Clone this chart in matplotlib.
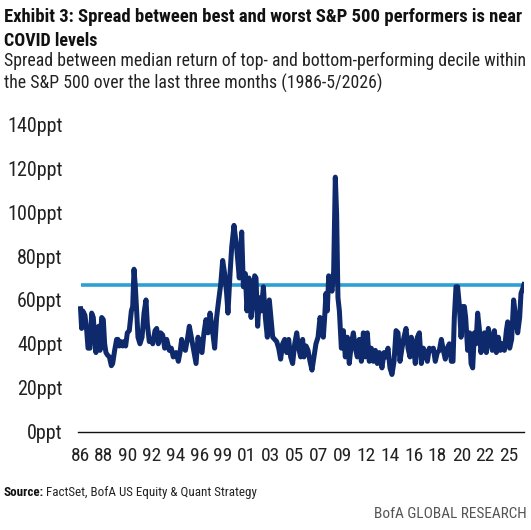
import matplotlib

matplotlib.use("Agg")
import matplotlib.pyplot as plt
from matplotlib import font_manager

# decimal year and spread (ppt)
YEARS = [
    1986.05, 1986.15, 1986.25, 1986.45, 1986.61, 1986.73, 1986.91, 1987.06, 1987.21, 1987.33,
    1987.45, 1987.58, 1987.70, 1987.82, 1987.97, 1988.12, 1988.24, 1988.36, 1988.48, 1988.67,
    1988.85, 1988.97, 1989.15, 1989.33, 1989.45, 1989.58, 1989.70, 1989.88, 1990.00, 1990.15,
    1990.30, 1990.48, 1990.67, 1990.79, 1990.91, 1991.03, 1991.15, 1991.27, 1991.45, 1991.64,
    1991.82, 1992.00, 1992.12, 1992.30, 1992.48, 1992.61, 1992.82, 1992.97, 1993.12, 1993.33,
    1993.52, 1993.70, 1993.88, 1994.12, 1994.30, 1994.48, 1994.73, 1994.94, 1995.09, 1995.24,
    1995.39, 1995.58, 1995.76, 1995.94, 1996.12, 1996.30, 1996.55, 1996.73, 1996.91, 1997.09,
    1997.27, 1997.45, 1997.64, 1997.82, 1998.00, 1998.24, 1998.42, 1998.61, 1998.79, 1998.97,
    1999.15, 1999.33, 1999.45, 1999.64, 1999.79, 2000.00, 2000.24, 2000.48, 2000.70, 2000.85,
    2001.03, 2001.18, 2001.36, 2001.55, 2001.70, 2001.88, 2002.00, 2002.15, 2002.30, 2002.48,
    2002.67, 2002.85, 2003.03, 2003.21, 2003.36, 2003.52, 2003.70, 2003.88, 2004.06, 2004.24,
    2004.42, 2004.61, 2004.79, 2004.97, 2005.15, 2005.33, 2005.52, 2005.70, 2005.88, 2006.06,
    2006.24, 2006.36, 2006.55, 2006.73, 2006.91, 2007.09, 2007.27, 2007.45, 2007.64, 2007.82,
    2008.00, 2008.12, 2008.24, 2008.36, 2008.48, 2008.61, 2008.79, 2008.91, 2009.06, 2009.21,
    2009.33, 2009.45, 2009.58, 2009.76, 2009.94, 2010.12, 2010.30, 2010.48, 2010.67, 2010.85,
    2011.03, 2011.21, 2011.39, 2011.58, 2011.76, 2011.94, 2012.12, 2012.30, 2012.48, 2012.67,
    2012.85, 2013.03, 2013.21, 2013.45, 2013.64, 2013.82, 2014.00, 2014.18, 2014.36, 2014.55,
    2014.73, 2014.91, 2015.09, 2015.27, 2015.45, 2015.64, 2015.82, 2016.00, 2016.12, 2016.30,
    2016.48, 2016.67, 2016.85, 2017.03, 2017.21, 2017.39, 2017.58, 2017.76, 2017.94, 2018.12,
    2018.30, 2018.48, 2018.67, 2018.85, 2019.03, 2019.21, 2019.39, 2019.58, 2019.76, 2019.91,
    2020.03, 2020.18, 2020.33, 2020.48, 2020.64, 2020.82, 2020.94, 2021.06, 2021.24, 2021.42,
    2021.55, 2021.70, 2021.85, 2022.00, 2022.15, 2022.30, 2022.45, 2022.61, 2022.76, 2022.94,
    2023.12, 2023.30, 2023.48, 2023.67, 2023.85, 2024.03, 2024.21, 2024.39, 2024.58, 2024.76,
    2024.88, 2025.06, 2025.24, 2025.42, 2025.61, 2025.79, 2025.97, 2026.09, 2026.24, 2026.36,
]
SPREAD = [
    56, 47, 55, 53, 46, 38, 38, 54, 52, 43,
    36, 47, 48, 37, 52, 51, 40, 36, 35, 34,
    30, 31, 37, 42, 42, 39, 41, 39, 41, 39,
    45, 46, 55, 57, 74, 66, 55, 43, 40, 43,
    54, 60, 49, 41, 42, 40, 46, 47, 40, 45,
    44, 38, 42, 37, 38, 34, 36, 32, 36, 42,
    38, 37, 42, 48, 43, 38, 31, 43, 38, 36,
    45, 51, 45, 54, 48, 38, 52, 60, 67, 78,
    72, 63, 54, 72, 84, 94, 84, 70, 91, 66,
    72, 55, 70, 52, 58, 71, 70, 48, 61, 55,
    66, 52, 43, 60, 52, 43, 42, 41, 38, 33,
    40, 42, 36, 42, 34, 31, 40, 45, 38, 34,
    42, 34, 39, 37, 32, 28, 34, 40, 43, 52,
    47, 43, 52, 63, 55, 71, 67, 64, 73, 116,
    99, 61, 55, 38, 46, 34, 43, 31, 40, 45,
    38, 34, 42, 32, 45, 34, 45, 32, 38, 32,
    37, 31, 36, 29, 36, 34, 38, 29, 26, 32,
    46, 45, 32, 38, 43, 47, 38, 34, 43, 40,
    31, 43, 45, 31, 38, 36, 32, 38, 37, 38,
    32, 36, 37, 42, 37, 33, 38, 40, 32, 32,
    52, 66, 66, 58, 43, 57, 57, 52, 37, 45,
    31, 29, 45, 40, 54, 47, 36, 42, 45, 36,
    47, 42, 37, 46, 36, 43, 37, 40, 37, 46,
    50, 38, 42, 60, 52, 45, 52, 63, 65, 67,
]
COVID_LEVEL = 67
TICK_LABELS = ["86", "88", "90", "92", "94", "96", "99", "01", "03", "05",
               "07", "09", "12", "14", "16", "18", "20", "22", "25"]
Y_TICKS = [0, 20, 40, 60, 80, 100, 120, 140]

TITLE_1 = "Exhibit 3: Spread between best and worst S&P 500 performers is near"
TITLE_2 = "COVID levels"
SUB_1 = "Spread between median return of top- and bottom-performing decile within"
SUB_2 = "the S&P 500 over the last three months (1986-5/2026)"

NAVY = "#0e2a6c"
LIGHT_BLUE = "#2c9fd5"

W, H = 531, 530


def _pick_family() -> str:
    names = {f.name for f in font_manager.fontManager.ttflist}
    for name in ("Liberation Sans Narrow", "Roboto Condensed", "Open Sans", "Roboto"):
        if name in names:
            return name
    return "DejaVu Sans"


FAMILY = _pick_family()


def _fit_text(fig, x_px, y_px, s, width_px, **kw):
    # place text at pixel baseline and scale the font so it spans width_px
    t = fig.text(x_px / W, 1 - y_px / H, s, fontsize=10, va="baseline", family=FAMILY, **kw)
    r = fig.canvas.get_renderer()
    w = t.get_window_extent(r).width
    t.set_fontsize(10 * width_px / w)
    return t


def main() -> int:
    fig = plt.figure(figsize=(W / 100, H / 100), dpi=100)
    px_per_year = 11.0
    x0 = 1986 + (78 - 80) / px_per_year
    x1 = 1986 + (524 - 80) / px_per_year
    ax = fig.add_axes([78 / W, (H - 431.5) / H, (524 - 78) / W, (431.5 - 124.5) / H])

    ax.plot([YEARS[0], YEARS[-1]], [COVID_LEVEL, COVID_LEVEL], color=LIGHT_BLUE,
            linewidth=2.6, solid_capstyle="butt", zorder=2)
    ax.plot(YEARS, SPREAD, color=NAVY, linewidth=3.6, solid_joinstyle="round", zorder=3)

    ax.set_xlim(x0, x1)
    ax.set_ylim(0, 140)
    for side in ("top", "right", "left"):
        ax.spines[side].set_visible(False)
    ax.spines["bottom"].set_linewidth(1.0)
    ax.spines["bottom"].set_color("#111111")

    tick_pos = [1986 + k * 26 / 12 for k in range(len(TICK_LABELS))]
    ax.set_xticks(tick_pos)
    ax.set_xticklabels(TICK_LABELS, family=FAMILY, fontsize=14, color="#222222")
    ax.set_yticks(Y_TICKS)
    ax.set_yticklabels([f"{v}ppt" for v in Y_TICKS], family=FAMILY, fontsize=14.5, color="#222222")
    ax.tick_params(axis="x", length=0, pad=11)
    ax.tick_params(axis="y", length=0, pad=11)

    fig.canvas.draw()
    _fit_text(fig, 4, 22, TITLE_1, 520, fontweight="bold", color="#111111")
    _fit_text(fig, 4, 46.5, TITLE_2, 93, fontweight="bold", color="#111111")
    t = _fit_text(fig, 4, 89, SUB_2, 376, color="#222222")
    fig.text(4 / W, 1 - 66.5 / H, SUB_1, fontsize=t.get_fontsize(), va="baseline",
             family=FAMILY, color="#222222")

    src = _fit_text(fig, 4, 496, "Source:", 40, fontweight="bold", color="#111111")
    r = fig.canvas.get_renderer()
    bb = src.get_window_extent(r)
    fig.text(bb.x1 / W + 2 / W, 1 - 496 / H, "FactSet, BofA US Equity & Quant Strategy",
             fontsize=src.get_fontsize(), va="baseline", family=FAMILY, color="#222222")
    _fit_text(fig, 374, 518, "BofA GLOBAL RESEARCH", 154, color="#555555")

    fig.savefig("out.png", dpi=100)
    plt.close(fig)
    return 0


if __name__ == "__main__":
    raise SystemExit(main())
